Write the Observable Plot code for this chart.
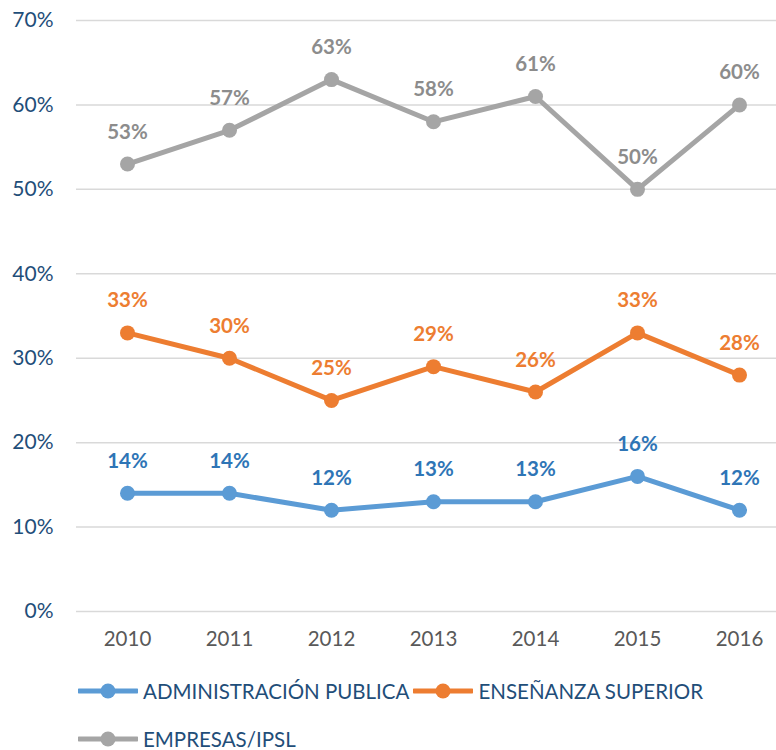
<!DOCTYPE html>
<html>
<head>
<meta charset="utf-8">
<script src="https://cdn.jsdelivr.net/npm/d3@7"></script>
<script src="https://cdn.jsdelivr.net/npm/@observablehq/plot@0.6"></script>
<style>
  body { margin: 0; background: #fff; font-family: Lato, "Open Sans", sans-serif; }
  #legend { display: flex; flex-wrap: wrap; width: 776px; padding-left: 78px; box-sizing: border-box; row-gap: 22px; margin-top: 18px; }
  .item { display: flex; align-items: center; margin-right: 4px; font-size: 20.5px; color: #1F4E79; height: 26px; }
  .item svg { margin-right: 5px; }
</style>
</head>
<body>
<div id="chart"></div>
<div id="legend"></div>
<script>
const years = ["2010", "2011", "2012", "2013", "2014", "2015", "2016"];
const seriesNames = ["ADMINISTRACIÓN PUBLICA", "ENSEÑANZA SUPERIOR", "EMPRESAS/IPSL"];
const administracion = [14, 14, 12, 13, 13, 16, 12];
const ensenanza = [33, 30, 25, 29, 26, 33, 28];
const empresas = [53, 57, 63, 58, 61, 50, 60];
const lineColors = ["#5B9BD5", "#ED7D31", "#A5A5A5"];
const labelColors = ["#2E75B6", "#ED7D31", "#8C8C8C"];
const yTicks = [0, 10, 20, 30, 40, 50, 60, 70];

const allValues = [administracion, ensenanza, empresas];
const data = [];
allValues.forEach((vals, s) => vals.forEach((v, i) => data.push({ series: seriesNames[s], year: years[i], value: v })));

const chart = Plot.plot({
  width: 776,
  height: 660,
  marginTop: 20,
  marginBottom: 49,
  marginLeft: 76,
  marginRight: 0,
  style: { fontFamily: "Lato, 'Open Sans', sans-serif", background: "#fff" },
  x: { type: "point", domain: years, range: [127, 739], padding: 0, label: null, axis: null },
  y: { domain: [0, 70], label: null, axis: null },
  color: { domain: seriesNames, range: lineColors },
  marks: [
    Plot.ruleY(yTicks, { stroke: "#D9D9D9", strokeWidth: 1.5 }),
    Plot.axisY({ ticks: yTicks, tickSize: 0, tickPadding: 23, tickFormat: d => d + "%", fill: "#1F4E79", fontSize: 21, label: null }),
    Plot.axisX({ tickSize: 0, tickPadding: 20, fill: "#595959", fontSize: 20.5, label: null }),
    Plot.line(data, { x: "year", y: "value", z: "series", stroke: "series", strokeWidth: 5 }),
    Plot.dot(data, { x: "year", y: "value", fill: "series", r: 7.5 }),
    Plot.text(data, { x: "year", y: "value", text: d => d.value + "%", dy: -32, fontSize: 20.5, fontWeight: "bold",
      fill: d => labelColors[seriesNames.indexOf(d.series)] })
  ]
});
document.getElementById("chart").appendChild(chart);

const legend = document.getElementById("legend");
seriesNames.forEach((name, i) => {
  const item = document.createElement("div");
  item.className = "item";
  item.innerHTML = `<svg width="60" height="18"><line x1="1" x2="59" y1="9" y2="9" stroke="${lineColors[i]}" stroke-width="5" stroke-linecap="round"/><circle cx="30" cy="9" r="7.5" fill="${lineColors[i]}"/></svg><span>${name}</span>`;
  legend.appendChild(item);
});
</script>
</body>
</html>
